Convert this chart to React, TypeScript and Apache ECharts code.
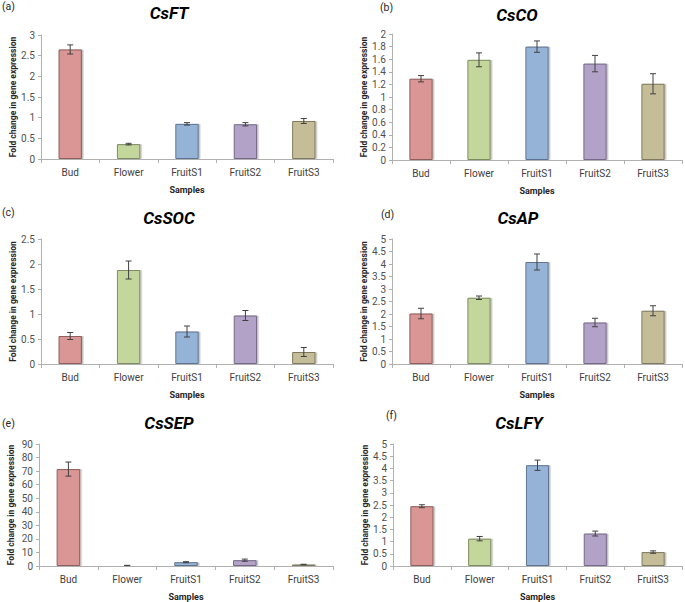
import React, { useEffect, useRef } from "react";
import * as echarts from "echarts";

const categories = ["Bud", "Flower", "FruitS1", "FruitS2", "FruitS3"];
const barColors = ["#d99694", "#c3d69b", "#95b3d7", "#b3a2c7", "#c4bd97"];
const borderColors = ["#8e5e5c", "#7f8c62", "#5f7390", "#76698a", "#7f7a5e"];

const ftMean = [2.65, 0.36, 0.85, 0.84, 0.92];
const ftErr = [0.11, 0.02, 0.03, 0.04, 0.06];
const coMean = [1.29, 1.59, 1.8, 1.53, 1.21];
const coErr = [0.05, 0.11, 0.09, 0.13, 0.16];
const socMean = [0.56, 1.88, 0.65, 0.97, 0.24];
const socErr = [0.07, 0.18, 0.11, 0.1, 0.09];
const apMean = [2.02, 2.65, 4.08, 1.66, 2.13];
const apErr = [0.21, 0.07, 0.32, 0.17, 0.2];
const sepMean = [71.5, 0.4, 2.8, 4.3, 1.1];
const sepErr = [5.2, 0.1, 0.4, 0.8, 0.2];
const lfyMean = [2.45, 1.12, 4.13, 1.33, 0.57];
const lfyErr = [0.06, 0.09, 0.21, 0.1, 0.05];

const panelTitles = ["CsFT", "CsCO", "CsSOC", "CsAP", "CsSEP", "CsLFY"];
const panelLetters = ["(a)", "(b)", "(c)", "(d)", "(e)", "(f)"];
const yMax = [3, 2, 2.5, 5, 90, 5];
const yInterval = [0.5, 0.2, 0.5, 0.5, 10, 0.5];
const yAxisName = "Fold change in gene expression";
const xAxisName = "Samples";

const means = [ftMean, coMean, socMean, apMean, sepMean, lfyMean];
const errs = [ftErr, coErr, socErr, apErr, sepErr, lfyErr];

const grids = [
  { left: 41, top: 35, width: 292, height: 124 },
  { left: 392, top: 34, width: 290, height: 126 },
  { left: 41, top: 239, width: 292, height: 125 },
  { left: 392, top: 239, width: 290, height: 125 },
  { left: 39, top: 444, width: 294, height: 125 },
  { left: 393, top: 444, width: 289, height: 125 },
];
const titlePos = [
  { cx: 169, cy: 13 },
  { cx: 517, cy: 15 },
  { cx: 169, cy: 218 },
  { cx: 518, cy: 218 },
  { cx: 169, cy: 423 },
  { cx: 519, cy: 423 },
];
const letterPos = [
  { x: 2, y: 6 },
  { x: 380, y: 7 },
  { x: 2, y: 212 },
  { x: 381, y: 214 },
  { x: 2, y: 423 },
  { x: 386, y: 415 },
];

const FONT = "Roboto";

export default function App() {
  const ref = useRef<HTMLDivElement>(null);
  useEffect(() => {
    document.body.style.margin = "0";
    const chart = echarts.init(ref.current!, null, { renderer: "svg" });
    const xAxes: any[] = [];
    const yAxes: any[] = [];
    const series: any[] = [];
    const graphics: any[] = [];
    grids.forEach((g, i) => {
      xAxes.push({
        type: "category",
        gridIndex: i,
        data: categories,
        name: xAxisName,
        nameLocation: "middle",
        nameGap: 26,
        nameTextStyle: { fontFamily: FONT, fontWeight: "bold", fontSize: 9, color: "#262626" },
        axisLine: { lineStyle: { color: "#b0b0b0", width: 1 } },
        axisTick: { show: true, length: 4, lineStyle: { color: "#b0b0b0" } },
        axisLabel: { fontFamily: FONT, fontSize: 10, color: "#404040", margin: 8 },
      });
      yAxes.push({
        type: "value",
        gridIndex: i,
        min: 0,
        max: yMax[i],
        interval: yInterval[i],
        name: yAxisName,
        nameLocation: "middle",
        nameGap: 24,
        nameTextStyle: { fontFamily: FONT, fontWeight: "bold", fontSize: 8.5, color: "#262626" },
        axisLine: { show: true, lineStyle: { color: "#b0b0b0", width: 1 } },
        axisTick: { show: true, length: 3, lineStyle: { color: "#b0b0b0" } },
        axisLabel: { fontFamily: FONT, fontSize: 10, color: "#505050", margin: 6 },
        splitLine: { show: false },
      });
      series.push({
        type: "bar",
        xAxisIndex: i,
        yAxisIndex: i,
        barWidth: "40%",
        data: means[i].map((v, k) => ({
          value: v,
          itemStyle: {
            color: barColors[k],
            borderColor: borderColors[k],
            borderWidth: 1,
            shadowColor: "rgba(0,0,0,0.25)",
            shadowOffsetX: 1.5,
            shadowOffsetY: 0,
            shadowBlur: 1,
          },
        })),
      });
      series.push({
        type: "custom",
        xAxisIndex: i,
        yAxisIndex: i,
        z: 5,
        data: means[i].map((v, k) => [k, v - errs[i][k], v + errs[i][k]]),
        renderItem: (params: any, api: any) => {
          const x = api.value(0);
          const lo = api.coord([x, api.value(1)]);
          const hi = api.coord([x, api.value(2)]);
          const c = 3;
          const st = { stroke: "#404040", lineWidth: 1 };
          return {
            type: "group",
            children: [
              { type: "line", shape: { x1: lo[0], y1: lo[1], x2: hi[0], y2: hi[1] }, style: st },
              { type: "line", shape: { x1: lo[0] - c, y1: lo[1], x2: lo[0] + c, y2: lo[1] }, style: st },
              { type: "line", shape: { x1: hi[0] - c, y1: hi[1], x2: hi[0] + c, y2: hi[1] }, style: st },
            ],
          };
        },
      });
      graphics.push({
        type: "text",
        x: titlePos[i].cx,
        y: titlePos[i].cy,
        style: {
          text: panelTitles[i],
          fontFamily: FONT,
          fontSize: 17,
          fontWeight: "bold",
          fontStyle: "italic",
          fill: "#000",
          textAlign: "center",
          textVerticalAlign: "middle",
        },
      });
      graphics.push({
        type: "text",
        x: letterPos[i].x,
        y: letterPos[i].y,
        style: {
          text: panelLetters[i],
          fontFamily: FONT,
          fontSize: 10.5,
          fill: "#262626",
          textAlign: "left",
          textVerticalAlign: "middle",
        },
      });
    });
    chart.setOption({
      animation: false,
      backgroundColor: "#ffffff",
      grid: grids.map((g) => ({ ...g, containLabel: false })),
      xAxis: xAxes,
      yAxis: yAxes,
      series,
      graphic: graphics,
    });
    return () => chart.dispose();
  }, []);
  return <div ref={ref} style={{ width: 685, height: 602 }} />;
}
